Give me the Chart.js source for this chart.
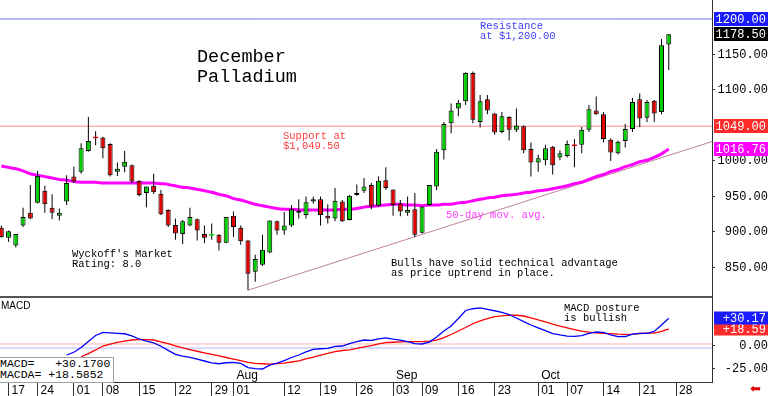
<!DOCTYPE html>
<html>
<head>
<meta charset="utf-8">
<script src="https://cdn.jsdelivr.net/npm/chart.js@4.4.1/dist/chart.umd.min.js"></script>
<style>
  html, body { margin: 0; padding: 0; background: #fff; }
  #wrap { position: relative; width: 768px; height: 396px; overflow: hidden; }
  #price { position: absolute; left: 0; top: 0; }
  #macd { position: absolute; left: 0; top: 298px; }
  .t { position: absolute; white-space: pre; font-family: 'Liberation Mono', monospace; font-size: 10.5px; line-height: 10.3px; }
  .title { position: absolute; white-space: pre; font-family: 'Liberation Mono', monospace; font-size: 18.5px; line-height: 19.5px; color: #000; }
  .box { position: absolute; left: -1px; top: 357px; width: 115px; height: 26px; border: 1px solid #a0a0a0; background: #fff;
         font-family: 'Liberation Mono', monospace; font-size: 11.5px; line-height: 11px; white-space: pre; box-sizing: border-box; }
</style>
</head>
<body>
<div id="wrap">
  <canvas id="price" width="768" height="298"></canvas>
  <canvas id="macd" width="768" height="98"></canvas>

  <div class="title" style="left:197px; top:48px;">December
Palladium</div>
  <div class="t" style="left:480px; top:21px; color:#3c3cff;">Resistance
at $1,200.00</div>
  <div class="t" style="left:283px; top:131px; color:#ff3c3c;">Support at
$1,049.50</div>
  <div class="t" style="left:446px; top:210px; color:#ff3cff;">50-day mov. avg.</div>
  <div class="t" style="left:391px; top:258px; color:#000;">Bulls have solid technical advantage
as price uptrend in place.</div>
  <div class="t" style="left:72px; top:249px; color:#000;">Wyckoff's Market
Rating: 8.0</div>
  <div class="t" style="left:564px; top:303px; color:#000;">MACD posture
is bullish</div>
  <div style="position:absolute; left:1px; top:301px; font-family:'Liberation Sans'; font-size:10px; line-height:10px;">MACD</div>
  <div class="box">MACD=   +30.1700
MACDA= +18.5852</div>
  <div style="position:absolute; left:750px; top:381px; font-family:'DejaVu Sans'; font-size:13px; color:#e00000;">⬅</div>
</div>

<script>
// trading-day index: 0 = Mon Jun 24, first candle at index -5
const firstDay = -5;

const opens = [
  906, 892, 881, 909, 927, 941, 958, 934, 923, 943,
  978, 985, 1014, 1033, 1033, 1024, 985, 992, 994, 972,
  955, 965, 954, 931, 910, 897, 909, 918, 897, 895,
  896, 885, 923, 906, 888, 844, 854, 871, 915, 902,
  909, 927, 924, 943, 946, 923, 919, 943, 917, 952,
  958, 966, 937, 973, 960, 940, 927, 932, 899, 938,
  964, 1015, 1053, 1074, 1084, 1124, 1055, 1087, 1067, 1041,
  1062, 1044, 1049, 1017, 998, 1001, 1020, 1005, 1007, 1022,
  1023, 1044, 1071, 1066, 1030, 1011, 1028, 1045, 1087, 1061,
  1085, 1069, 1164
];
const highs = [
  909, 902, 897, 934, 966, 986, 965, 953, 933, 980,
  992, 1025, 1062, 1042, 1034, 1025, 998, 1014, 995, 973,
  964, 982, 959, 932, 919, 917, 934, 919, 909, 912,
  897, 921, 929, 909, 889, 868, 896, 916, 916, 928,
  938, 946, 950, 950, 950, 939, 962, 945, 952, 967,
  976, 969, 978, 991, 960, 945, 950, 955, 936, 966,
  1017, 1055, 1081, 1086, 1125, 1126, 1093, 1093, 1068, 1069,
  1063, 1074, 1050, 1026, 1009, 1023, 1021, 1015, 1029, 1031,
  1048, 1079, 1091, 1069, 1032, 1029, 1052, 1089, 1095, 1086,
  1086, 1172, 1179
];
const lows = [
  892, 886, 878, 907, 918, 940, 927, 918, 916, 938,
  969, 982, 1013, 1022, 1004, 978, 979, 984, 969, 950,
  935, 954, 924, 907, 889, 883, 908, 888, 884, 889,
  874, 884, 893, 882, 818, 830, 852, 870, 896, 896,
  907, 919, 919, 940, 909, 912, 915, 914, 916, 951,
  955, 932, 936, 959, 923, 922, 923, 893, 898, 937,
  959, 1002, 1039, 1063, 1079, 1053, 1047, 1066, 1037, 1039,
  1029, 1041, 1011, 978, 985, 994, 981, 1001, 1005, 991,
  1011, 1041, 1065, 1026, 1000, 1009, 1019, 1041, 1048, 1055,
  1055, 1066, 1128
];
const closes = [
  893, 901, 897, 921, 919, 979, 939, 927, 927, 969,
  971, 1018, 1028, 1032, 1018, 980, 989, 999, 971, 952,
  964, 956, 925, 909, 898, 915, 921, 902, 892, 896,
  885, 921, 907, 887, 841, 862, 875, 916, 902, 909,
  932, 930, 942, 946, 924, 919, 944, 915, 951, 955,
  964, 936, 972, 962, 938, 929, 931, 896, 936, 966,
  1013, 1052, 1071, 1082, 1124, 1058, 1084, 1071, 1040, 1063,
  1044, 1050, 1015, 998, 1004, 1018, 994, 1011, 1024, 1021,
  1044, 1073, 1066, 1031, 1012, 1027, 1045, 1083, 1060, 1083,
  1067, 1163, 1178.5
];
const ma50 = [
  993, 991, 989, 986, 982, 980, 978, 976, 974, 973,
  971, 970, 970, 970, 969, 969, 969, 969, 969, 969,
  969, 969, 968, 967, 965, 963, 962, 960, 958, 956,
  953, 951, 947, 945, 942, 939, 937, 935, 933, 932,
  932, 931, 931, 931, 931, 931, 931, 932, 932, 933,
  935, 936, 937, 938, 939, 939, 938, 938, 937, 938,
  938, 939, 939, 941, 942, 944, 946, 948, 949, 951,
  952, 953, 955, 956, 958, 959, 961, 963, 965, 968,
  970, 974, 978, 981, 985, 988, 992, 995, 999, 1001,
  1005, 1010, 1016.76
];
const macdLine = [
  null, null, null, null, null, null, null, null, null, -9.8,
  -6.8, -1.6, 4.9, 11.4, 14.9, 14.3, 13.8, 13.3, 10.9, 7.6,
  5.4, 3.3, -0.3, -4.7, -9.0, -10.9, -12.3, -14.3, -16.3, -18.3,
  -19.3, -18.2, -17.9, -19.0, -23.4, -24.6, -25.0, -20.9, -18.5, -15.8,
  -12.5, -9.8, -6.5, -3.6, -3.0, -2.5, -0.5, 0.0, 2.7, 4.8,
  6.5, 6.0, 7.8, 8.9, 7.4, 6.3, 4.8, 2.5, 2.2, 4.3,
  9.8, 16.3, 21.7, 29.9, 38.6, 40.5, 41.5, 39.9, 38.3, 36.6,
  34.2, 30.4, 26.5, 22.8, 19.8, 16.8, 13.5, 12.0, 10.7, 10.4,
  11.3, 13.8, 15.2, 14.7, 12.2, 10.1, 10.3, 13.0, 13.8, 13.8,
  15.8, 22.8, 30.17
];
const signalLine = [
  null, null, null, null, null, null, null, null, null, null,
  null, -11.7, -8.2, -4.3, 0.0, 2.0, 3.9, 5.4, 6.5, 7.2,
  7.0, 6.5, 4.6, 2.5, 0.2, -2.0, -3.9, -5.7, -7.4, -9.0,
  -10.8, -12.5, -14.2, -16.0, -17.7, -18.9, -19.3, -19.6, -19.1, -18.7,
  -17.4, -16.2, -14.1, -12.0, -9.8, -7.9, -6.2, -4.9, -4.3, -2.7,
  -0.9, 0.5, 2.2, 3.7, 4.1, 4.5, 4.7, 4.7, 4.7, 5.3,
  6.5, 9.2, 12.5, 16.3, 20.1, 24.2, 27.2, 29.7, 32.0, 32.7,
  33.6, 33.4, 32.6, 30.7, 28.3, 26.1, 23.7, 21.5, 19.6, 17.8,
  16.1, 15.0, 14.3, 13.8, 13.5, 13.0, 12.7, 13.0, 13.6, 13.9,
  14.1, 15.8, 18.59
];

const tickDays = [-4, 0, 5, 9, 14, 19, 24, 27, 34, 39, 44, 49, 53, 58, 63, 69, 73, 78, 83, 88];
const tickLabels = ['17', '24', '01', '08', '15', '22', '29', '01', '12', '19', '26', '03', '09', '16', '23', '01', '07', '14', '21', '28'];
const monthDays = [27, 49, 69];
const monthLabels = ['Aug', 'Sep', 'Oct'];

const priceTicks = [850, 900, 950, 1000, 1100, 1150];
const priceTags = [1016.76, 1049, 1178.5, 1200];
const macdTicks = [-25, 0];
const macdTags = [18.59, 30.17];
const macdGuides = [2.2, -2.2];

const resistance = 1200;
const support = 1049;
const trendDays = [29, 93];
const trendValues = [818, 1027.5];

// view window
const xMin = -5.18, xMax = 92.96;

Chart.defaults.font.family = 'Liberation Mono';

const up = '#00cc00', down = '#e00000';
const days = opens.map((o, k) => firstDay + k);
const bodyColors = opens.map((o, k) => closes[k] >= o ? up : down);
const bodyBorders = opens.map((o, k) => Math.abs(closes[k] - o) < 2.5 ? 0 : 1);

function makeTags(values, colors, prefix, h) {
    return {
        id: 'tags',
        afterDraw(chart) {
            const s = chart.scales.y;
            const ctx = chart.ctx;
            ctx.save();
            ctx.font = '12px "Liberation Mono"';
            ctx.textAlign = 'right';
            ctx.textBaseline = 'middle';
            values.forEach((v, i) => {
                const y = Math.round(s.getPixelForValue(v));
                ctx.fillStyle = colors[i];
                ctx.fillRect(s.left + 2, y - h / 2, s.right - s.left - 2, h);
                ctx.fillStyle = '#fff';
                ctx.fillText(prefix + v.toFixed(2), s.right - 2, y + 1);
            });
            ctx.restore();
        }
    };
}

const bottomLine = {
    id: 'bottomLine',
    afterDraw(chart) {
        const a = chart.chartArea;
        chart.ctx.fillStyle = '#555';
        chart.ctx.fillRect(a.left, a.bottom - 2, a.right - a.left, 2);
    }
};

const monthNames = {
    id: 'months',
    afterDraw(chart) {
        const xs = chart.scales.x;
        const ctx = chart.ctx;
        ctx.save();
        ctx.font = '12px "Liberation Sans"';
        ctx.fillStyle = '#000';
        ctx.textAlign = 'left';
        ctx.textBaseline = 'alphabetic';
        monthDays.forEach((d, i) => {
            ctx.fillText(monthLabels[i], xs.getPixelForValue(d) + 3, chart.chartArea.bottom - 3);
        });
        ctx.restore();
    }
};

function flatLine(v) {
    return [{ x: xMin, y: v }, { x: xMax, y: v }];
}

new Chart(document.getElementById('price'), {
    type: 'bar',
    data: {
        datasets: [
            {
                label: 'body',
                data: days.map((d, k) => ({ x: d, y: [opens[k], closes[k]] })),
                backgroundColor: bodyColors,
                borderColor: '#000',
                borderWidth: bodyBorders,
                borderSkipped: false,
                barThickness: 5,
                minBarLength: 1.5,
                grouped: false,
                inflateAmount: 0,
                clip: 0
            },
            {
                label: 'wick',
                data: days.map((d, k) => ({ x: d, y: [lows[k], highs[k]] })),
                backgroundColor: '#000',
                barThickness: 1,
                grouped: false,
                inflateAmount: 0,
                clip: 0
            },
            {
                type: 'line',
                label: '50-day',
                data: days.map((d, k) => ({ x: d, y: ma50[k] })),
                borderColor: '#ff00ff',
                borderWidth: 3,
                pointRadius: 0,
                tension: 0.2,
                clip: 0
            },
            {
                type: 'line',
                label: 'trend',
                data: trendDays.map((d, k) => ({ x: d, y: trendValues[k] })),
                borderColor: '#c0809a',
                borderWidth: 1,
                pointRadius: 0,
                clip: 0
            },
            {
                type: 'line',
                label: 'resistance',
                data: flatLine(resistance),
                borderColor: '#7070ff',
                borderWidth: 1,
                pointRadius: 0,
                clip: 0
            },
            {
                type: 'line',
                label: 'support',
                data: flatLine(support),
                borderColor: '#ff8c8c',
                borderWidth: 1,
                pointRadius: 0,
                clip: 0
            }
        ]
    },
    options: {
        responsive: false,
        animation: false,
        events: [],
        layout: { padding: 0 },
        plugins: { legend: { display: false }, tooltip: { enabled: false } },
        scales: {
            x: { type: 'linear', min: xMin, max: xMax, offset: false, display: false },
            y: {
                type: 'linear',
                position: 'right',
                min: 807,
                max: 1226.76,
                afterBuildTicks: s => { s.ticks = priceTicks.map(v => ({ value: v })); },
                afterFit: s => { s.width = 56; s.paddingTop = 0; s.paddingBottom = 0; },
                grid: { display: true, drawOnChartArea: false, drawTicks: true, tickLength: 3, color: '#333' },
                border: { display: true, color: '#333', width: 1 },
                ticks: {
                    autoSkip: false,
                    crossAlign: 'far',
                    padding: 0.6,
                    color: '#000',
                    font: { family: 'Liberation Mono', size: 12 },
                    callback: v => v.toFixed(2)
                }
            }
        }
    },
    plugins: [bottomLine, makeTags(priceTags, ['#ff00ff', '#ff2a2a', '#000000', '#1a1aff'], '', 14)]
});

new Chart(document.getElementById('macd'), {
    type: 'line',
    data: {
        datasets: [
            {
                label: 'MACD',
                data: days.map((d, k) => ({ x: d, y: macdLine[k] })).filter(p => p.y !== null),
                borderColor: '#0000ff',
                borderWidth: 1.3,
                pointRadius: 0,
                clip: 0
            },
            {
                label: 'MACDA',
                data: days.map((d, k) => ({ x: d, y: signalLine[k] })).filter(p => p.y !== null),
                borderColor: '#ff0000',
                borderWidth: 1.3,
                pointRadius: 0,
                clip: 0
            },
            {
                label: 'guide up',
                data: flatLine(macdGuides[0]),
                borderColor: '#ffb4b4',
                borderWidth: 1,
                pointRadius: 0,
                clip: 0
            },
            {
                label: 'guide down',
                data: flatLine(macdGuides[1]),
                borderColor: '#b4b4ff',
                borderWidth: 1,
                pointRadius: 0,
                clip: 0
            }
        ]
    },
    options: {
        responsive: false,
        animation: false,
        events: [],
        layout: { padding: 0 },
        plugins: { legend: { display: false }, tooltip: { enabled: false } },
        scales: {
            x: {
                type: 'linear',
                position: 'bottom',
                min: xMin,
                max: xMax,
                offset: false,
                afterBuildTicks: s => { s.ticks = tickDays.map(v => ({ value: v })); },
                afterFit: s => { s.height = 14; s.paddingLeft = 0; s.paddingRight = 0; },
                grid: { display: true, drawOnChartArea: false, drawTicks: true, tickLength: 14, color: '#333' },
                border: { display: true, color: '#333', width: 1 },
                ticks: {
                    autoSkip: false,
                    maxRotation: 0,
                    minRotation: 0,
                    align: 'start',
                    padding: -13,
                    labelOffset: 3,
                    color: '#000',
                    font: { family: 'Liberation Sans', size: 12 },
                    callback: (v, i) => tickLabels[i]
                }
            },
            y: {
                type: 'linear',
                position: 'right',
                min: -39.13,
                max: 52.17,
                afterBuildTicks: s => { s.ticks = macdTicks.map(v => ({ value: v })); },
                afterFit: s => { s.width = 56; s.paddingTop = 0; s.paddingBottom = 0; },
                grid: { display: true, drawOnChartArea: false, drawTicks: true, tickLength: 3, color: '#333' },
                border: { display: true, color: '#333', width: 1 },
                ticks: {
                    autoSkip: false,
                    crossAlign: 'far',
                    padding: 7.8,
                    color: '#000',
                    font: { family: 'Liberation Mono', size: 12 },
                    callback: v => v.toFixed(2)
                }
            }
        }
    },
    plugins: [monthNames, makeTags(macdTags, ['#ff2a2a', '#1a1aff'], '+', 13)]
});
</script>
</body>
</html>
